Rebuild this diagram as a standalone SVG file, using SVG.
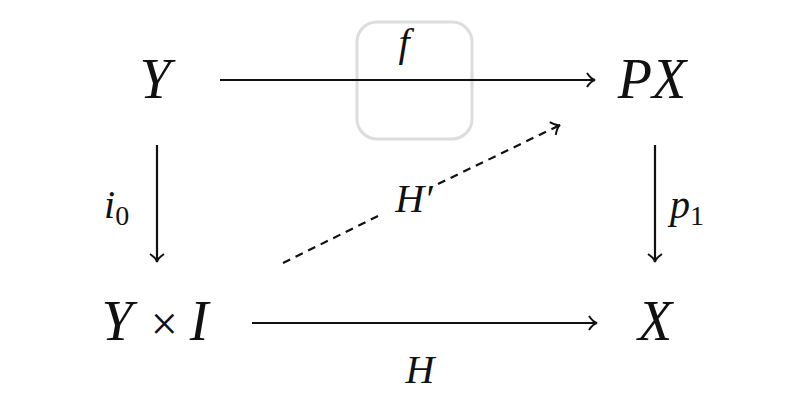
<svg xmlns="http://www.w3.org/2000/svg" width="800" height="419" viewBox="0 0 800 419">
<style>
.n{font-family:"Liberation Serif","Times New Roman",serif;font-style:italic;font-size:56px;fill:#111}
.l{font-family:"Liberation Serif","Times New Roman",serif;font-style:italic;font-size:40px;fill:#111}
.s{font-family:"Liberation Serif","Times New Roman",serif;font-size:28px;fill:#111}
.r{font-family:"Liberation Serif","Times New Roman",serif;font-size:48px;fill:#111}
.c{stroke:#111;stroke-width:2.2;fill:none;marker-end:url(#a)}
.d{stroke:#111;stroke-width:2.2;fill:none;stroke-dasharray:8,6}
</style>
<defs>
<marker id="a" viewBox="-10 -8 12 16" refX="0" refY="0" markerWidth="12" markerHeight="16" markerUnits="userSpaceOnUse" orient="auto">
<path d="M-8,-7 Q-4,-1 0,0 Q-4,1 -8,7" fill="none" stroke="#111" stroke-width="2"/>
</marker>
</defs>
<rect x="357" y="22" width="115" height="117" rx="20" fill="none" stroke="#ddd" stroke-width="3"/>
<g id="Y"><text class="n" x="155" y="98" text-anchor="middle">Y</text></g>
<g id="PX"><text class="n" x="652" y="98" text-anchor="middle">PX</text></g>
<g id="YxI"><text x="155" y="340" text-anchor="middle"><tspan class="n">Y</tspan><tspan class="r" dx="6"> × </tspan><tspan class="n">I</tspan></text></g>
<g id="X"><text class="n" x="655" y="340" text-anchor="middle">X</text></g>
<g id="connectors">
<line class="c" x1="220" y1="80" x2="595" y2="80"/>
<line class="c" x1="157" y1="145" x2="157" y2="262"/>
<line class="c" x1="655" y1="145" x2="655" y2="262"/>
<line class="c" x1="252" y1="323" x2="597" y2="323"/>
<line class="d" x1="283" y1="263" x2="380" y2="215"/>
<line class="c d" x1="438" y1="184" x2="560" y2="125"/>
<text class="l" x="414" y="212" text-anchor="middle">H′</text>
<text class="l" x="404" y="56" text-anchor="middle">f</text>
<text x="104" y="218"><tspan class="l">i</tspan><tspan class="s" dy="7">0</tspan></text>
<text x="670" y="218"><tspan class="l">p</tspan><tspan class="s" dy="7">1</tspan></text>
<text class="l" x="420" y="383" text-anchor="middle">H</text>
</g>
</svg>
